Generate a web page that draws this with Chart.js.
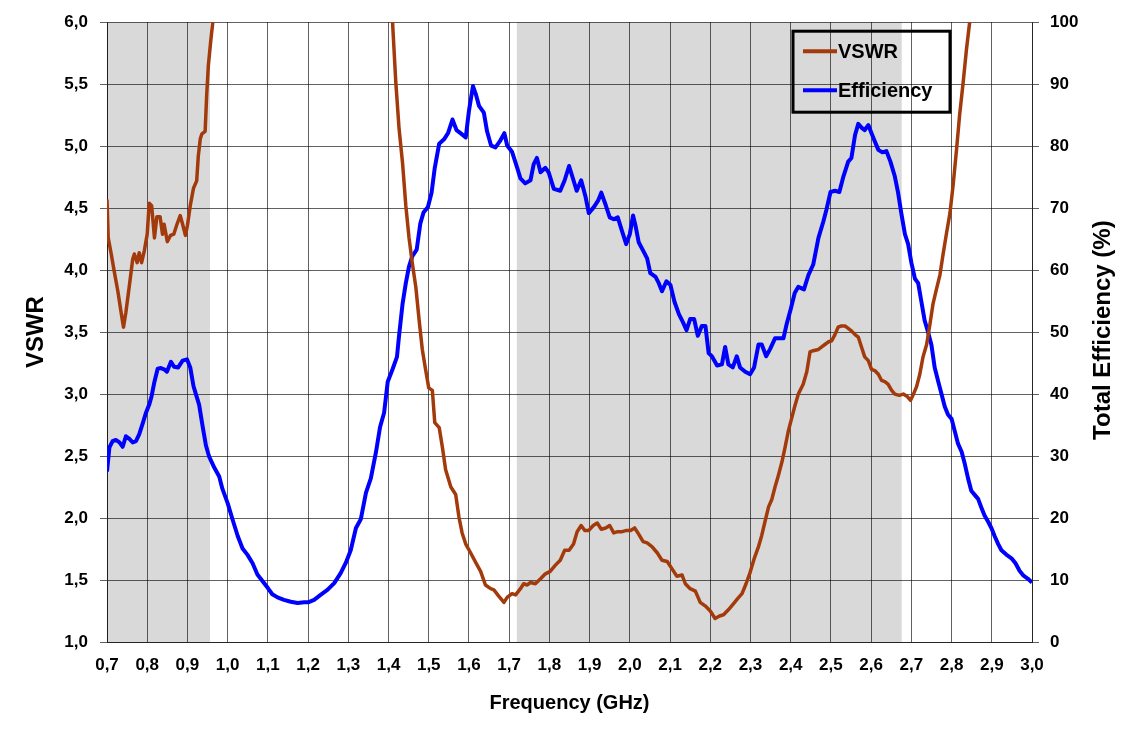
<!DOCTYPE html>
<html>
<head>
<meta charset="utf-8">
<title>VSWR / Efficiency</title>
<script src="https://cdn.jsdelivr.net/npm/chart.js@4.4.1/dist/chart.umd.min.js"></script>
<style>
  body { margin: 0; background: #fff; }
  #box { width: 1123px; height: 734px; }
</style>
</head>
<body>
<div id="box"><canvas id="graphe" width="1123" height="734"></canvas></div>
<script>
const vswrFreq = [
  0.700, 0.703, 0.710, 0.718, 0.727, 0.735, 0.741, 0.747, 0.755, 0.764, 0.768, 0.775, 0.780, 0.786, 0.793,
  0.800, 0.805, 0.811, 0.818, 0.824, 0.832, 0.838, 0.842, 0.850, 0.858, 0.866, 0.874, 0.882, 0.888, 0.895,
  0.900, 0.907, 0.915, 0.923, 0.927, 0.932, 0.936, 0.944, 0.948, 0.952, 0.958, 0.963, 0.970,
  1.405, 1.410, 1.418, 1.426, 1.435, 1.443, 1.451, 1.459, 1.468, 1.476, 1.484, 1.492, 1.500, 1.509, 1.515,
  1.526, 1.534, 1.542, 1.555, 1.567, 1.575, 1.583, 1.592, 1.604, 1.617, 1.629, 1.641, 1.654, 1.662, 1.674,
  1.687, 1.695, 1.707, 1.716, 1.728, 1.736, 1.745, 1.753, 1.765, 1.778, 1.790, 1.802, 1.815, 1.827, 1.838,
  1.849, 1.860, 1.869, 1.879, 1.888, 1.898, 1.909, 1.919, 1.929, 1.940, 1.950, 1.960, 1.970, 1.981, 1.992,
  2.002, 2.012, 2.022, 2.033, 2.043, 2.055, 2.068, 2.080, 2.093, 2.105, 2.117, 2.130, 2.138, 2.150, 2.163,
  2.175, 2.188, 2.200, 2.212, 2.223, 2.233, 2.245, 2.258, 2.268, 2.279, 2.289, 2.299, 2.309, 2.320, 2.328,
  2.336, 2.345, 2.353, 2.361, 2.369, 2.378, 2.386, 2.394, 2.402, 2.410, 2.419, 2.431, 2.440, 2.448, 2.456,
  2.469, 2.477, 2.485, 2.493, 2.502, 2.510, 2.518, 2.526, 2.535, 2.543, 2.551, 2.560, 2.568, 2.576, 2.584,
  2.593, 2.601, 2.609, 2.618, 2.626, 2.634, 2.642, 2.651, 2.659, 2.670, 2.680, 2.690, 2.698, 2.704, 2.713,
  2.721, 2.729, 2.738, 2.746, 2.754, 2.762, 2.771, 2.779, 2.787, 2.796, 2.804, 2.812, 2.820, 2.829, 2.837,
  2.845, 2.855
];
const vswrVals = [
  4.57, 4.26, 4.14, 3.99, 3.83, 3.66, 3.54, 3.66, 3.86, 4.09, 4.13, 4.06, 4.14, 4.06, 4.16,
  4.29, 4.54, 4.52, 4.26, 4.43, 4.43, 4.29, 4.37, 4.23, 4.28, 4.29, 4.37, 4.44, 4.37, 4.28,
  4.36, 4.52, 4.66, 4.72, 4.92, 5.06, 5.10, 5.12, 5.42, 5.65, 5.85, 6.00, 6.40,
  6.40, 6.00, 5.52, 5.15, 4.86, 4.52, 4.26, 4.06, 3.86, 3.60, 3.36, 3.20, 3.05, 3.03, 2.77,
  2.73, 2.57, 2.39, 2.25, 2.19, 2.01, 1.88, 1.79, 1.72, 1.64, 1.57, 1.46, 1.43, 1.42, 1.37,
  1.32, 1.36, 1.39, 1.38, 1.43, 1.47, 1.46, 1.48, 1.47, 1.51, 1.55, 1.57, 1.62, 1.66, 1.74,
  1.74, 1.79, 1.89, 1.94, 1.90, 1.90, 1.94, 1.96, 1.91, 1.92, 1.94, 1.88, 1.89, 1.89, 1.90,
  1.90, 1.92, 1.87, 1.81, 1.80, 1.77, 1.72, 1.66, 1.65, 1.59, 1.53, 1.54, 1.47, 1.43, 1.41,
  1.32, 1.29, 1.25, 1.19, 1.21, 1.22, 1.26, 1.31, 1.35, 1.39, 1.47, 1.56, 1.67, 1.77, 1.86,
  1.97, 2.09, 2.15, 2.25, 2.34, 2.45, 2.57, 2.70, 2.80, 2.90, 3.00, 3.08, 3.18, 3.34, 3.35,
  3.36, 3.38, 3.40, 3.42, 3.43, 3.48, 3.54, 3.55, 3.55, 3.53, 3.51, 3.48, 3.46, 3.38, 3.30,
  3.27, 3.20, 3.19, 3.16, 3.11, 3.10, 3.08, 3.03, 3.00, 2.99, 3.00, 2.98, 2.95, 2.99, 3.06,
  3.16, 3.30, 3.40, 3.56, 3.73, 3.84, 3.96, 4.13, 4.29, 4.46, 4.69, 4.96, 5.25, 5.52, 5.78,
  6.00, 6.40
];

// Fréquences (GHz) et efficacité totale (%)
const effFreq = [
  0.700, 0.706, 0.714, 0.722, 0.731, 0.739, 0.747, 0.755, 0.764, 0.772, 0.780, 0.789, 0.797, 0.805, 0.811,
  0.818, 0.826, 0.834, 0.842, 0.849, 0.859, 0.867, 0.877, 0.888, 0.899, 0.907, 0.915, 0.921, 0.929, 0.938,
  0.946, 0.954, 0.967, 0.979, 0.987, 1.000, 1.012, 1.025, 1.037, 1.049, 1.062, 1.074, 1.087, 1.100, 1.111,
  1.124, 1.140, 1.157, 1.174, 1.190, 1.200, 1.215, 1.231, 1.248, 1.265, 1.281, 1.294, 1.306, 1.319, 1.331,
  1.344, 1.356, 1.369, 1.379, 1.389, 1.398, 1.410, 1.421, 1.426, 1.435, 1.443, 1.451, 1.459, 1.470, 1.479,
  1.487, 1.498, 1.507, 1.515, 1.526, 1.538, 1.548, 1.559, 1.569, 1.579, 1.592, 1.600, 1.610, 1.617, 1.625,
  1.637, 1.645, 1.655, 1.666, 1.677, 1.688, 1.695, 1.707, 1.720, 1.728, 1.740, 1.753, 1.761, 1.769, 1.778,
  1.790, 1.798, 1.811, 1.827, 1.838, 1.849, 1.857, 1.868, 1.879, 1.890, 1.898, 1.911, 1.921, 1.929, 1.940,
  1.950, 1.960, 1.970, 1.981, 1.991, 2.000, 2.008, 2.014, 2.022, 2.035, 2.043, 2.051, 2.064, 2.072, 2.080,
  2.091, 2.101, 2.111, 2.122, 2.132, 2.141, 2.150, 2.160, 2.169, 2.179, 2.188, 2.196, 2.204, 2.217, 2.229,
  2.237, 2.245, 2.256, 2.266, 2.274, 2.287, 2.299, 2.309, 2.320, 2.328, 2.339, 2.349, 2.361, 2.373, 2.382,
  2.390, 2.400, 2.410, 2.419, 2.433, 2.444, 2.456, 2.469, 2.481, 2.489, 2.499, 2.510, 2.521, 2.531, 2.543,
  2.551, 2.560, 2.568, 2.576, 2.584, 2.593, 2.601, 2.609, 2.618, 2.628, 2.638, 2.648, 2.659, 2.667, 2.675,
  2.684, 2.692, 2.700, 2.709, 2.717, 2.725, 2.733, 2.742, 2.750, 2.758, 2.767, 2.775, 2.783, 2.791, 2.800,
  2.808, 2.816, 2.825, 2.833, 2.841, 2.849, 2.858, 2.866, 2.874, 2.882, 2.891, 2.899, 2.907, 2.916, 2.924,
  2.936, 2.949, 2.959, 2.969, 2.979, 2.990, 3.000
];
const effVals = [
  27.5, 31.4, 32.4, 32.6, 32.2, 31.5, 33.2, 32.8, 32.2, 32.4, 33.5, 35.3, 37.0, 38.3, 39.7,
  42.0, 44.1, 44.2, 44.0, 43.6, 45.2, 44.4, 44.3, 45.4, 45.6, 44.3, 41.3, 40.0, 38.3, 34.7,
  31.7, 29.9, 28.1, 26.7, 24.7, 22.4, 19.8, 17.1, 15.1, 14.1, 12.7, 10.9, 9.8, 8.7, 7.7,
  7.2, 6.8, 6.5, 6.3, 6.4, 6.4, 6.8, 7.6, 8.4, 9.5, 11.1, 12.8, 14.8, 18.4, 19.8,
  24.1, 26.4, 30.7, 34.7, 37.0, 42.0, 44.0, 46.0, 49.3, 54.6, 57.9, 60.6, 62.2, 63.3, 67.5,
  69.3, 70.2, 72.5, 76.5, 80.4, 81.1, 82.1, 84.3, 82.6, 82.1, 81.4, 85.7, 89.7, 88.4, 86.5,
  85.4, 82.4, 80.1, 79.8, 80.8, 82.1, 80.1, 79.1, 76.5, 74.8, 74.0, 74.5, 77.1, 78.1, 75.8,
  76.5, 75.8, 73.1, 72.8, 74.5, 76.8, 75.1, 72.8, 74.5, 71.8, 69.2, 70.2, 71.2, 72.5, 70.5,
  68.5, 68.2, 68.5, 66.2, 64.2, 65.8, 68.8, 67.2, 64.5, 62.9, 61.9, 59.5, 58.9, 57.9, 56.6,
  58.2, 57.6, 54.9, 52.9, 51.6, 50.3, 52.1, 52.1, 49.4, 51.0, 51.0, 46.6, 46.1, 44.6, 44.8,
  47.6, 44.8, 44.3, 46.1, 44.3, 43.6, 43.2, 44.3, 48.0, 48.0, 46.1, 47.3, 49.0, 49.0, 49.0,
  51.3, 53.7, 56.3, 57.3, 56.9, 59.2, 60.9, 65.2, 67.8, 69.8, 72.6, 72.8, 72.6, 75.1, 77.5,
  78.1, 81.8, 83.6, 83.0, 82.6, 83.4, 82.1, 80.8, 79.4, 79.0, 79.2, 77.5, 75.1, 72.5, 69.2,
  65.8, 64.2, 61.2, 58.6, 57.9, 54.9, 51.9, 49.9, 47.9, 44.3, 42.0, 40.0, 38.0, 36.7, 36.0,
  34.0, 32.0, 30.7, 28.7, 26.4, 24.4, 23.7, 23.1, 21.7, 20.4, 19.4, 18.4, 17.1, 15.8, 14.8,
  14.1, 13.5, 12.7, 11.5, 10.7, 10.2, 9.6
];

// Bandes grisées (GHz)
const bandStart = [0.700, 1.719];
const bandEnd = [0.956, 2.676];

const policeGraphe = "'Liberation Sans', Arial, sans-serif";
const couleurGrille = 'rgba(0, 0, 0, 0.62)';

// Fonction pour formater les nombres avec une virgule
function formatComma(value, digits) {
  return Number(value).toFixed(digits).replace('.', ',');
}

function toPoints(xs, ys) {
  return xs.map((x, i) => ({ x: x, y: ys[i] }));
}

// Fond blanc et bandes grises sous la grille
const bandesGrises = {
  id: 'bandesGrises',
  beforeDraw(chart) {
    const { ctx, chartArea, scales } = chart;
    ctx.save();
    ctx.fillStyle = '#ffffff';
    ctx.fillRect(0, 0, chart.width, chart.height);
    ctx.fillStyle = '#d9d9d9';
    for (let i = 0; i < bandStart.length; i++) {
      const x1 = scales.x.getPixelForValue(bandStart[i]);
      const x2 = scales.x.getPixelForValue(bandEnd[i]);
      ctx.fillRect(x1, chartArea.top, x2 - x1, chartArea.bottom - chartArea.top);
    }
    ctx.restore();
  }
};

// Légende encadrée et titre de l'axe de droite
const legendeEtTitre = {
  id: 'legendeEtTitre',
  afterDraw(chart) {
    const { ctx, chartArea } = chart;
    ctx.save();

    const bx = chartArea.right - 239;
    const by = chartArea.top + 9;
    ctx.strokeStyle = '#000';
    ctx.lineWidth = 3;
    ctx.strokeRect(bx, by, 157, 81);

    ctx.font = 'bold 20px ' + policeGraphe;
    ctx.textBaseline = 'middle';
    ctx.textAlign = 'left';
    chart.data.datasets.forEach((ds, i) => {
      const ly = by + 20 + i * 39;
      ctx.strokeStyle = ds.borderColor;
      ctx.lineWidth = 4;
      ctx.beginPath();
      ctx.moveTo(bx + 10, ly);
      ctx.lineTo(bx + 44, ly);
      ctx.stroke();
      ctx.fillStyle = '#000';
      ctx.fillText(ds.label, bx + 45, ly + 1);
    });

    // Titre vertical de droite, lu de bas en haut
    ctx.translate(1103, (chartArea.top + chartArea.bottom) / 2 - 2);
    ctx.rotate(-Math.PI / 2);
    ctx.font = 'bold 24px ' + policeGraphe;
    ctx.textAlign = 'center';
    ctx.fillStyle = '#000';
    ctx.fillText('Total Efficiency (%)', 0, 0);
    ctx.restore();
  }
};

const ctx = document.getElementById('graphe').getContext('2d');

new Chart(ctx, {
  type: 'line',
  data: {
    datasets: [
      {
        label: 'VSWR',
        data: toPoints(vswrFreq, vswrVals),
        yAxisID: 'y',
        borderColor: '#a33a0b',
        borderWidth: 3.5,
        pointRadius: 0,
        tension: 0,
        borderJoinStyle: 'round'
      },
      {
        label: 'Efficiency',
        data: toPoints(effFreq, effVals),
        yAxisID: 'y2',
        borderColor: '#0000ff',
        borderWidth: 4,
        pointRadius: 0,
        tension: 0,
        borderJoinStyle: 'round'
      }
    ]
  },
  options: {
    responsive: false,
    animation: false,
    devicePixelRatio: 1,
    layout: { padding: { top: 22, left: 0, right: 0, bottom: 0 } },
    plugins: {
      legend: { display: false },
      tooltip: { enabled: false }
    },
    scales: {
      x: {
        type: 'linear',
        min: 0.7,
        max: 3.0,
        afterFit: (scale) => { scale.height = 92; },
        ticks: {
          stepSize: 0.1,
          autoSkip: false,
          maxRotation: 0,
          padding: 13,
          color: '#000',
          font: { family: policeGraphe, size: 17, weight: 'bold' },
          callback: (value) => formatComma(value, 1)
        },
        grid: { color: couleurGrille, lineWidth: 1, drawTicks: false },
        border: { color: couleurGrille },
        title: {
          display: true,
          text: 'Frequency (GHz)',
          color: '#000',
          font: { family: policeGraphe, size: 20, weight: 'bold' },
          padding: { top: 19, bottom: 19 }
        }
      },
      y: {
        position: 'left',
        min: 1,
        max: 6,
        afterFit: (scale) => { scale.width = 107; },
        ticks: {
          stepSize: 0.5,
          padding: 12,
          color: '#000',
          font: { family: policeGraphe, size: 17, weight: 'bold' },
          callback: (value) => formatComma(value, 1)
        },
        grid: { color: couleurGrille, lineWidth: 1, tickLength: 7, tickColor: couleurGrille },
        border: { color: couleurGrille },
        title: {
          display: true,
          text: 'VSWR',
          color: '#000',
          font: { family: policeGraphe, size: 24, weight: 'bold' },
          padding: { top: 22, bottom: 0 }
        }
      },
      y2: {
        position: 'right',
        min: 0,
        max: 100,
        afterFit: (scale) => { scale.width = 91; },
        ticks: {
          stepSize: 10,
          padding: 11,
          color: '#000',
          font: { family: policeGraphe, size: 17, weight: 'bold' }
        },
        grid: { drawOnChartArea: false, tickLength: 7, tickColor: couleurGrille },
        border: { color: couleurGrille }
      }
    }
  },
  plugins: [bandesGrises, legendeEtTitre]
});
</script>
</body>
</html>
